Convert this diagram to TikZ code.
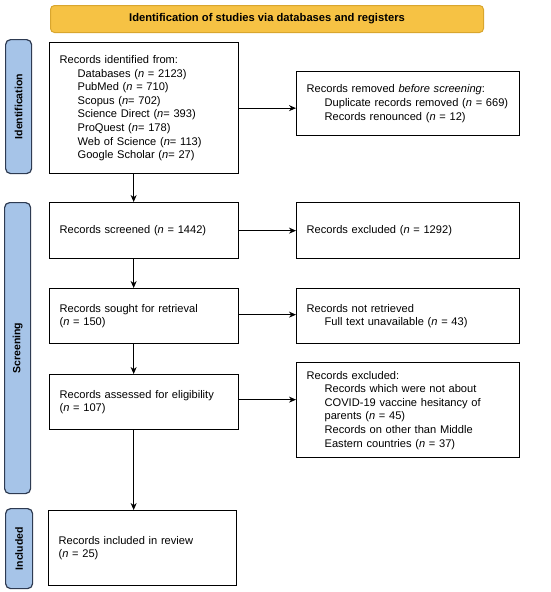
\documentclass[tikz,border=0pt]{standalone}
\usepackage{fontspec}
\setmainfont{Liberation Sans}
\usetikzlibrary{arrows.meta}
\definecolor{hdrfill}{HTML}{F6C244}
\definecolor{hdrdraw}{HTML}{D9A62E}
\definecolor{sidefill}{HTML}{A6C4E8}
\definecolor{sidedraw}{HTML}{2E3B52}
\begin{document}
\begin{tikzpicture}[x=1pt,y=-1pt,
  box/.style={draw=black, line width=1.3pt, anchor=north west, inner sep=0pt,
    align=left, font=\fontsize{11.1}{13.6}\selectfont},
  sidelab/.style={draw=sidedraw, fill=sidefill, line width=1.2pt, rounded corners=5pt,
    anchor=north west, inner sep=0pt},
  sidetext/.style={rotate=90, font=\bfseries\fontsize{10.5}{12}\selectfont},
  arr/.style={-{Stealth[length=7pt,width=6pt]}, line width=0.8pt}]
\useasboundingbox (0,0) rectangle (550,592);
% header
\node[draw=hdrdraw, fill=hdrfill, line width=1pt, rounded corners=4pt, anchor=north west,
  minimum width=433pt, minimum height=27pt, inner sep=0pt,
  font=\bfseries\fontsize{11.2}{13}\selectfont] (hdr) at (50,5) {Identification of studies via databases and registers};
% side labels
\node[sidelab, minimum width=26pt, minimum height=134pt] (sid) at (5,39) {};
\node[sidetext] (sidt) at (sid.center) {Identification};
\node[sidelab, minimum width=26pt, minimum height=291pt] (sscr) at (4,202) {};
\node[sidetext] (sscrt) at (sscr.center) {Screening};
\node[sidelab, minimum width=27pt, minimum height=80pt] (sinc) at (5,508) {};
\node[sidetext] (sinct) at (sinc.center) {Included};
% left boxes
\node[box, minimum width=189pt, minimum height=131pt, text width=169pt] (b1) at (49,42)
 {Records identified from:\\
 \hspace*{18pt}Databases (\textit{n} = 2123)\\
 \hspace*{18pt}PubMed (\textit{n} = 710)\\
 \hspace*{18pt}Scopus (\textit{n}= 702)\\
 \hspace*{18pt}Science Direct (\textit{n}= 393)\\
 \hspace*{18pt}ProQuest (\textit{n}= 178)\\
 \hspace*{18pt}Web of Science (\textit{n}= 113)\\
 \hspace*{18pt}Google Scholar (\textit{n}= 27)};
\node[box, minimum width=189pt, minimum height=56pt, text width=169pt] (b2) at (49,202)
 {Records screened (\textit{n} = 1442)};
\node[box, minimum width=189pt, minimum height=55pt, text width=169pt] (b3) at (49,288)
 {Records sought for retrieval\\(\textit{n} = 150)};
\node[box, minimum width=189pt, minimum height=55pt, text width=169pt] (b4) at (49,374)
 {Records assessed for eligibility\\(\textit{n} = 107)};
\node[box, minimum width=188pt, minimum height=75pt, text width=168pt] (b5) at (48,510)
 {Records included in review\\(\textit{n} = 25)};
% right boxes
\node[box, minimum width=223pt, minimum height=64pt, text width=203pt] (r1) at (296,71)
 {Records removed \textit{before screening}:\\
 \hspace*{18pt}Duplicate records removed (\textit{n} = 669)\\
 \hspace*{18pt}Records renounced (\textit{n} = 12)};
\node[box, minimum width=223pt, minimum height=56pt, text width=203pt] (r2) at (296,202)
 {Records excluded (\textit{n} = 1292)};
\node[box, minimum width=223pt, minimum height=55pt, text width=203pt] (r3) at (296,288)
 {Records not retrieved\\
 \hspace*{18pt}Full text unavailable (\textit{n} = 43)};
\node[box, minimum width=223pt, minimum height=95pt, text width=203pt] (r4) at (296,362)
 {Records excluded:\\
 \hspace*{18pt}Records which were not about\\
 \hspace*{18pt}COVID-19 vaccine hesitancy of\\
 \hspace*{18pt}parents (\textit{n} = 45)\\
 \hspace*{18pt}Records on other than Middle\\
 \hspace*{18pt}Eastern countries (\textit{n} = 37)};
% horizontal arrows
\draw[arr] (b1.east) -- (b1.east -| r1.west);
\draw[arr] (b2.east) -- (b2.east -| r2.west);
\draw[arr] ([yshift=1.5pt]b3.east) -- ([yshift=1.5pt]b3.east -| r3.west);
\draw[arr] ([yshift=2.5pt]b4.east) -- ([yshift=2.5pt]b4.east -| r4.west);
% vertical arrows
\draw[arr] ([xshift=-10.5pt]b1.south) -- ([xshift=-10.5pt]b1.south |- b2.north);
\draw[arr] ([xshift=-10.5pt]b2.south) -- ([xshift=-10.5pt]b2.south |- b3.north);
\draw[arr] ([xshift=-10.5pt]b3.south) -- ([xshift=-10.5pt]b3.south |- b4.north);
\draw[arr] ([xshift=-10.5pt]b4.south) -- ([xshift=-10.5pt]b4.south |- b5.north);
\end{tikzpicture}
\end{document}
